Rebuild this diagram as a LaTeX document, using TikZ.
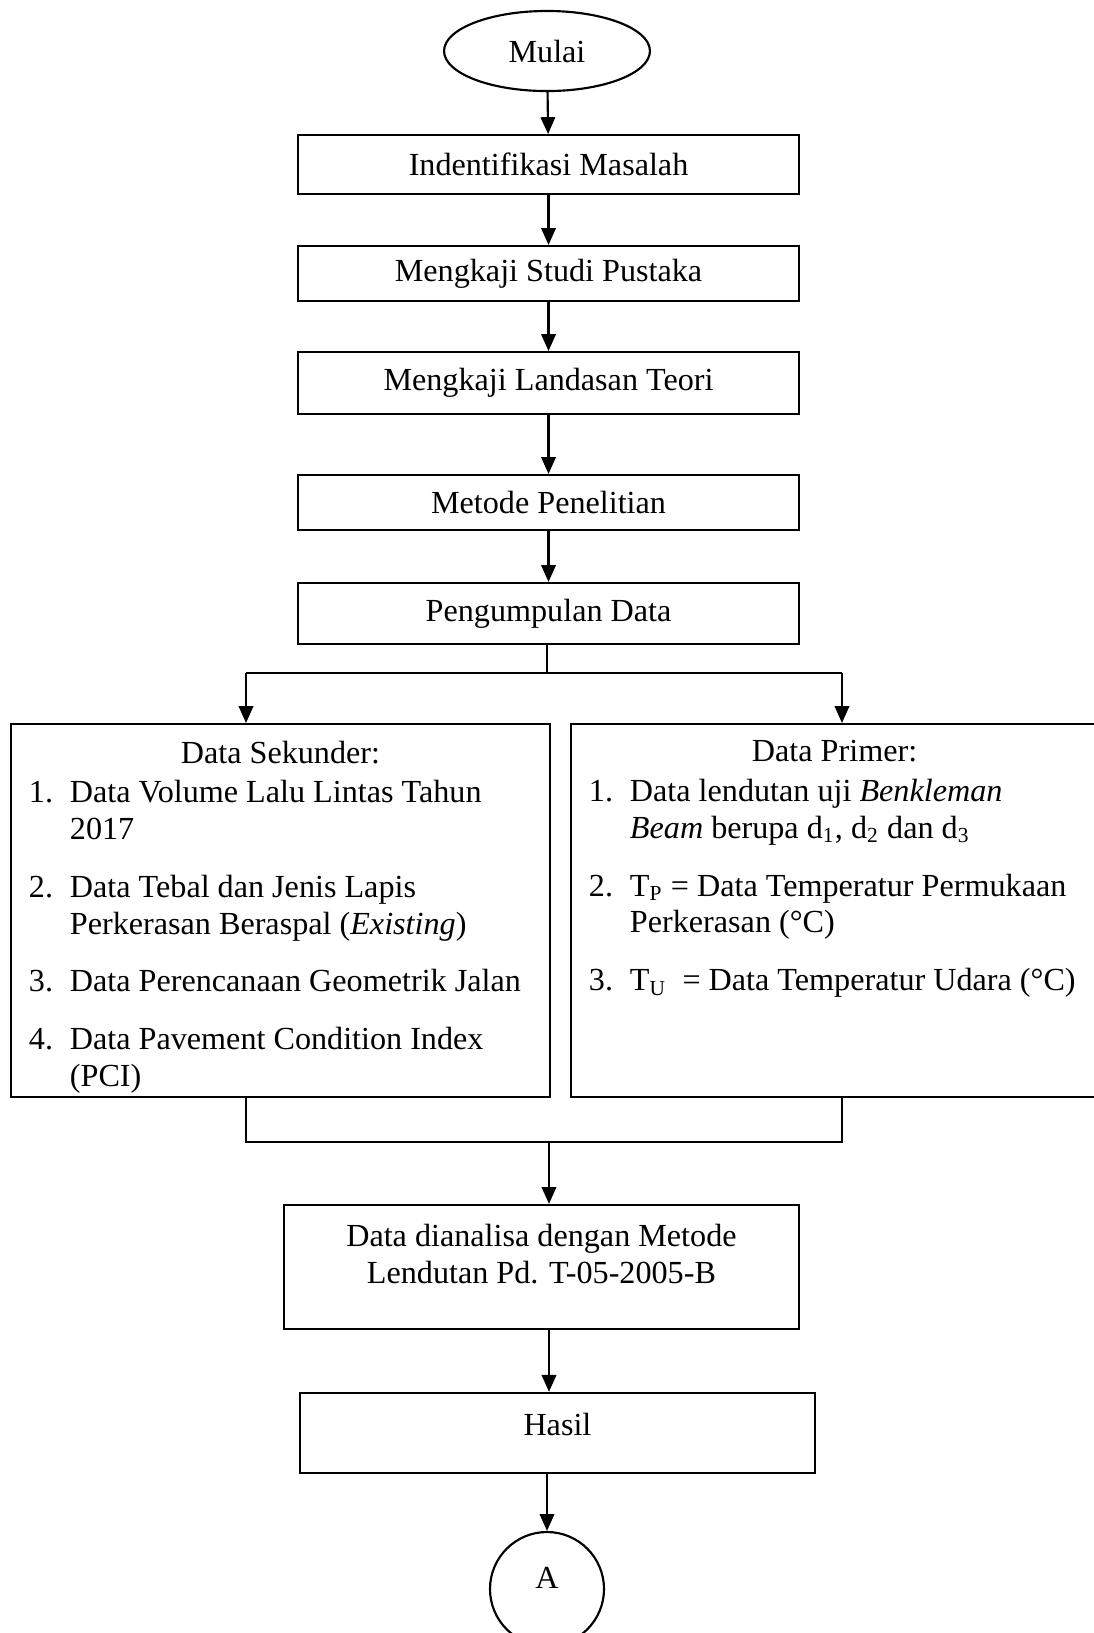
\documentclass[tikz,border=0pt]{standalone}
\usepackage{fontspec}
\setmainfont{Liberation Serif}
\usepackage{enumitem}
\usepackage{tikz}
\usetikzlibrary{shapes,arrows.meta,calc}

\setlist[enumerate]{label=\arabic*.,leftmargin=22pt,labelsep=6.3pt,itemsep=7.8pt,parsep=0pt,topsep=0.8pt,partopsep=0pt}
\newcommand{\isikotak}[4]{\begin{minipage}[c][#2][t]{#1}\vspace*{#3}#4\end{minipage}}

\begin{document}
\begin{tikzpicture}[every node/.style={font={\fontsize{12}{13.8}\selectfont}},
  line width=0.8pt,>={Triangle[length=6.3pt,width=5.4pt]},
  box/.style={draw,rectangle,minimum width=6.57cm,minimum height=0.76cm,inner sep=0pt},
  kotak/.style={draw,rectangle,inner sep=0pt}]

\useasboundingbox (0,0) rectangle (14.333,-21.414);

%Main flow
\node[draw,ellipse,minimum width=2.7cm,minimum height=1.05cm,inner sep=0pt] (mulai) at (7.173,-0.669) {Mulai};
\node[box,minimum height=0.77cm] (masalah) at (7.193,-2.157) {Indentifikasi Masalah};
\node[box,minimum height=0.72cm] (pustaka) at (7.193,-3.586) {Mengkaji Studi Pustaka};
\node[box,minimum height=0.81cm] (teori) at (7.193,-5.022) {Mengkaji Landasan Teori};
\node[box,minimum height=0.72cm] (metode) at (7.193,-6.589) {Metode Penelitian};
\node[box,minimum height=0.80cm] (kumpul) at (7.193,-8.045) {Pengumpulan Data};

% Data boxes
\node[kotak] (sekunder) at (3.678,-11.94) {\isikotak{7.068cm}{4.89cm}{6.2pt}{%
  \centering Data Sekunder:\par\raggedright
  \begin{enumerate}
  \item Data Volume Lalu Lintas Tahun\newline 2017
  \item Data Tebal dan Jenis Lapis\newline Perkerasan Beraspal (\textit{Existing})
  \item Data Perencanaan Geometrik Jalan
  \item Data Pavement Condition Index\newline (PCI)
  \end{enumerate}}};
\node[kotak] (primer) at (10.944,-11.94) {\isikotak{6.912cm}{4.89cm}{6.2pt}{%
  \centering Data Primer:\par\raggedright
  \begin{enumerate}
  \item Data lendutan uji \textit{Benkleman}\newline \textit{Beam} berupa d\textsubscript{1}, d\textsubscript{2} dan d\textsubscript{3}
  \item T\textsubscript{P} = Data Temperatur Permukaan\newline Perkerasan (°C)
  \item T\textsubscript{U}~ = Data Temperatur Udara (°C)
  \end{enumerate}}};

% Analysis and result
\node[kotak] (analisa) at (7.10,-16.614) {\isikotak{6.753cm}{1.626cm}{7pt}{%
  \centering Data dianalisa dengan Metode\\Lendutan Pd. T-05-2005-B}};
\node[box,minimum width=6.753cm,minimum height=1.049cm,text depth=0.236cm] (hasil) at (7.31,-18.79) {Hasil};
\node[draw,circle,minimum size=1.495cm,inner sep=0pt,text depth=0.28cm] (A) at (7.173,-20.837) {A};

% Junctions
\coordinate (bagi) at (7.173,-8.825);
\coordinate (kiri) at (3.226,-8.825);
\coordinate (kanan) at (11.041,-8.825);
\coordinate (gabung) at (7.199,-14.975);

% Connections
\draw[->] (mulai) -- (masalah);
\draw[->] (masalah) -- (pustaka);
\draw[->] (pustaka) -- (teori);
\draw[->] (teori) -- (metode);
\draw[->] (metode) -- (kumpul);

\draw[line width=0.4pt] (kumpul.south -| bagi) -- (bagi);
\draw (kiri) -- (kanan);
\draw[->] (kiri) -- (kiri |- sekunder.north);
\draw[->] (kanan) -- (kanan |- primer.north);

\draw (kiri |- sekunder.south) -- (kiri |- gabung) -- (kanan |- gabung) -- (kanan |- primer.south);
\draw[->] (gabung) -- (gabung |- analisa.north);
\draw[->] (gabung |- analisa.south) -- (gabung |- hasil.north);
\draw[->] (A |- hasil.south) -- (A);

\end{tikzpicture}
\end{document}
